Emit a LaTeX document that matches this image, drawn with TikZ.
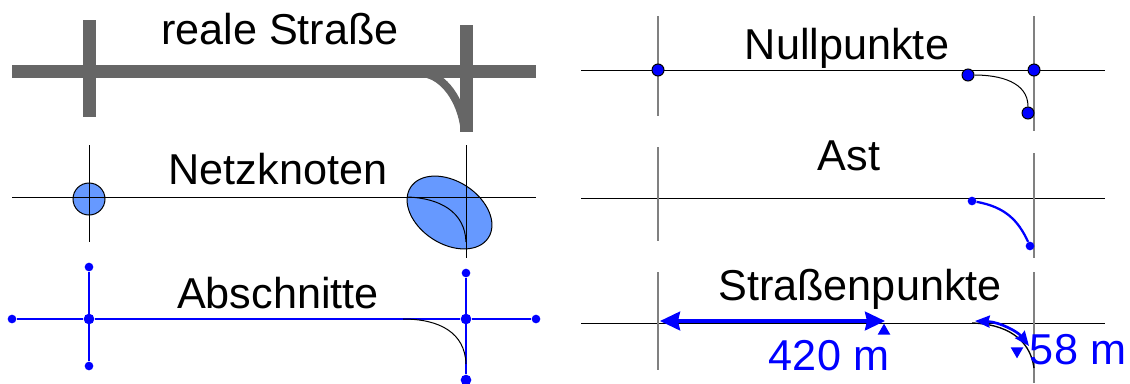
\documentclass[tikz,border=0pt]{standalone}
\usepackage{fontspec}
\setmainfont{Liberation Sans}
\usepackage{xcolor}
\usepackage{tikz}
\usetikzlibrary{arrows.meta,shapes.geometric}
\definecolor{roadgray}{HTML}{666666}
\definecolor{nodeblue}{HTML}{6699FF}
\definecolor{gridgray}{HTML}{808080}

\begin{document}
\begin{tikzpicture}[
  x=0.75pt, y=-0.75pt,
  title/.style={anchor=base, inner sep=0pt, font=\fontsize{32.4}{32.4}\selectfont},
  measure/.style={title, text=blue},
  road/.style={line width=9.75pt, roadgray},
  roadcurve/.style={line width=6pt, roadgray},
  thinline/.style={line width=0.75pt, black},
  grayline/.style={line width=0.9pt, gridgray},
  knot/.style={draw, line width=0.75pt, fill=nodeblue, inner sep=0pt},
  nullpt/.style={circle, draw, line width=0.75pt, fill=blue, inner sep=0pt, minimum size=9pt},
  dot/.style={circle, fill=blue, inner sep=0pt, minimum size=6.5pt},
  bigdot/.style={dot, minimum size=8pt},
  section/.style={line width=2pt, blue},
  dist/.style={line width=2.6pt, blue, {Stealth[length=15pt, width=14pt, inset=1.5pt]}-{Stealth[length=15pt, width=14pt, inset=1.5pt]}},
  distcurve/.style={line width=2pt, blue, {Stealth[length=11pt, width=9pt, inset=1pt]}-{Stealth[length=11pt, width=9pt, inset=1pt]}},
  tick/.style={regular polygon, regular polygon sides=3, fill=blue, inner sep=0pt, minimum size=11pt}
]
  \useasboundingbox (0,0) rectangle (1130,383);

  % reale Strasse
  \coordinate (r1w) at (12,71);
  \coordinate (r1e) at (536,71);
  \coordinate (r1at) at (89,20);
  \coordinate (r1ab) at (89,117);
  \coordinate (r1bt) at (466,25);
  \coordinate (r1bb) at (466,132);
  \coordinate (r1cs) at (420,73);
  \coordinate (r1ce) at (464,125);
  \draw[road] (r1w) -- (r1e);
  \draw[road] (r1at) -- (r1ab);
  \draw[road] (r1bt) -- (r1bb);
  \draw[roadcurve] (r1cs) .. controls (440,73) and (459,95) .. (r1ce);
  \node[title] (tstrasse) at (280,44) {reale Straße};

  % Netzknoten
  \node[knot, circle, minimum size=24pt] (kleft) at (89,199) {};
  \node[knot, ellipse, minimum width=69.5pt, minimum height=47pt, rotate=-33] (kright) at (449.5,212.5) {};
  \coordinate (n2w) at (12,197);
  \coordinate (n2e) at (536,197);
  \coordinate (n2at) at (89,145);
  \coordinate (n2ab) at (89,242);
  \coordinate (n2bt) at (466,145);
  \coordinate (n2bb) at (466,258);
  \coordinate (n2cs) at (407,197);
  \coordinate (n2ce) at (466,242);
  \draw[thinline] (n2w) -- (n2e);
  \draw[thinline] (n2at) -- (n2ab);
  \draw[thinline] (n2bt) -- (n2bb);
  \draw[thinline] (n2cs) .. controls (440,198) and (465,212) .. (n2ce);
  \node[title] (tknoten) at (278,184) {Netzknoten};

  % Abschnitte
  \node[dot] (a1) at (12,319) {};
  \node[dot] (a2) at (89,267) {};
  \node[bigdot] (a3) at (89,319) {};
  \node[dot] (a4) at (89,366) {};
  \node[dot] (a5) at (466,273) {};
  \node[bigdot] (a6) at (466,319) {};
  \node[dot] (a7) at (536,319) {};
  \node[bigdot] (a8) at (466,380) {};
  \coordinate (a9) at (403,319);
  \coordinate (a10) at (466,364);
  \draw[section] (a1) -- (a3);
  \draw[section] (a2) -- (a4);
  \draw[section] (a3) -- (a6);
  \draw[section] (a5) -- (a8);
  \draw[section] (a6) -- (a7);
  \draw[thinline] (a9) .. controls (440,319) and (465,333) .. (a10);
  \node[title] (tabschnitt) at (278,308) {Abschnitte};

  % Nullpunkte
  \coordinate (o1w) at (581,70);
  \coordinate (o1e) at (1105,70);
  \coordinate (o1at) at (658,16);
  \coordinate (o1ab) at (658,116);
  \coordinate (o1bt) at (1034,16);
  \coordinate (o1bb) at (1034,131);
  \draw[thinline] (o1w) -- (o1e);
  \draw[grayline] (o1at) -- (o1ab);
  \draw[grayline] (o1bt) -- (o1bb);
  \node[nullpt] (o1) at (658,70) {};
  \node[nullpt] (o2) at (1034,70) {};
  \node[nullpt] (o3) at (968,75) {};
  \node[nullpt] (o4) at (1028,113) {};
  \draw[thinline] (o3) .. controls (1000,75) and (1028,82) .. (o4);
  \node[title] (tnull) at (847,59) {Nullpunkte};

  % Ast
  \coordinate (b1w) at (581,198);
  \coordinate (b1e) at (1105,198);
  \coordinate (b1at) at (658,147);
  \coordinate (b1ab) at (658,241);
  \coordinate (b1bt) at (1034,153);
  \coordinate (b1bb) at (1034,258);
  \draw[thinline] (b1w) -- (b1e);
  \draw[grayline] (b1at) -- (b1ab);
  \draw[grayline] (b1bt) -- (b1bb);
  \node[dot] (b1) at (972,201) {};
  \node[dot] (b2) at (1030,246) {};
  \draw[section, line width=1.7pt] (b1) .. controls (1005,207) and (1018,220) .. (b2);
  \node[title] (tast) at (849,170) {Ast};

  % Strassenpunkte
  \coordinate (c1w) at (581,323);
  \coordinate (c1e) at (1105,323);
  \coordinate (c1at) at (658,272);
  \coordinate (c1ab) at (658,370);
  \coordinate (c1bt) at (1034,272);
  \coordinate (c1bb) at (1034,383);
  \coordinate (c2s) at (972,323);
  \coordinate (c2e) at (1034,368);
  \coordinate (d1) at (660,321);
  \coordinate (d2) at (885,321);
  \coordinate (d3) at (975,321);
  \coordinate (d4) at (1029,346);
  \draw[thinline] (c1w) -- (c1e);
  \draw[grayline] (c1at) -- (c1ab);
  \draw[grayline] (c1bt) -- (c1bb);
  \draw[thinline, line width=1pt] (c2s) .. controls (1005,324) and (1030,338) .. (c2e);
  \draw[dist] (d1) -- (d2);
  \draw[distcurve] (d3) .. controls (1000,322) and (1018,332) .. (d4);
  \node[tick] (m1) at (884,331) {};
  \node[tick, rotate=180] (m2) at (1017,351) {};
  \node[title] (tpunkte) at (860,300) {Straßenpunkte};
  \node[measure] (l420) at (829,370) {420 m};
  \node[measure] (l58) at (1078,364) {58 m};
\end{tikzpicture}
\end{document}
